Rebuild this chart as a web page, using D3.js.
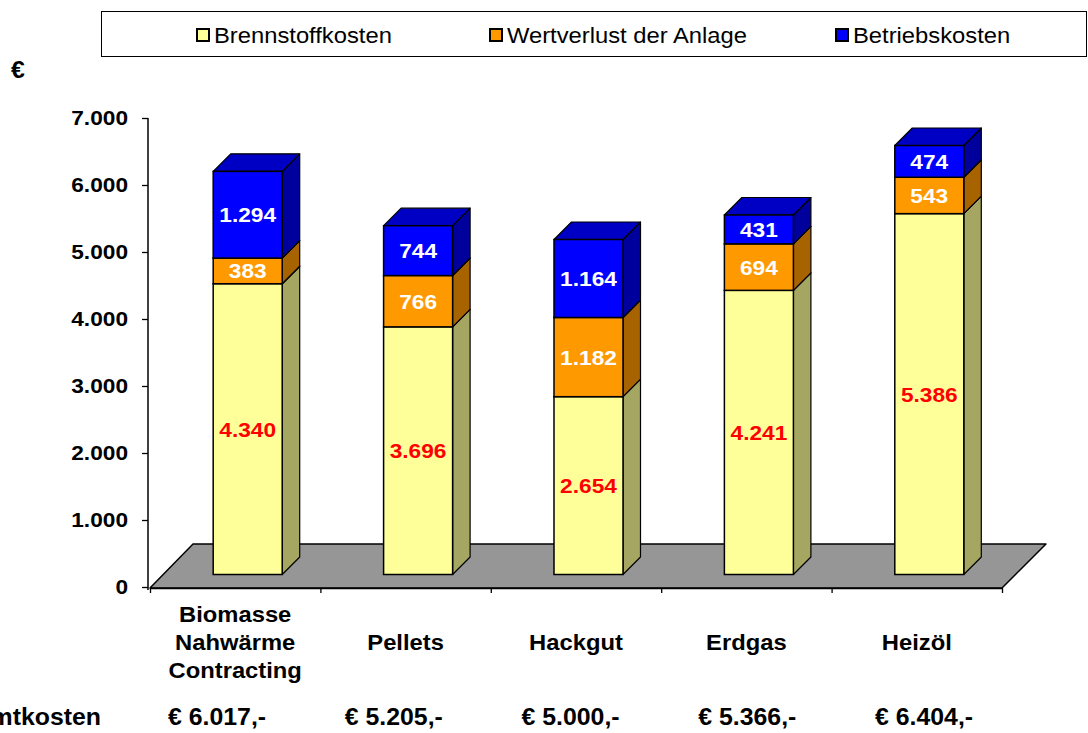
<!DOCTYPE html>
<html>
<head>
<meta charset="utf-8">
<script src="https://cdn.jsdelivr.net/npm/d3@7"></script>
<style>
  body { margin: 0; background: #fff; }
  svg text { font-family: "Liberation Sans", Arial, sans-serif; }
</style>
</head>
<body>
<svg id="chart" width="1088" height="733"></svg>
<script>
// chart data
var categories = ["Biomasse\nNahwärme\nContracting", "Pellets", "Hackgut", "Erdgas", "Heizöl"];
var brennstoffkosten = [4340, 3696, 2654, 4241, 5386];
var wertverlust = [383, 766, 1182, 694, 543];
var betriebskosten = [1294, 744, 1164, 431, 474];
var gesamtkosten = [6017, 5205, 5000, 5366, 6404];
var yTicks = [0, 1000, 2000, 3000, 4000, 5000, 6000, 7000];
var seriesNames = ["Brennstoffkosten", "Wertverlust der Anlage", "Betriebskosten"];

var de = d3.formatLocale({decimal: ",", thousands: ".", grouping: [3], currency: ["€", ""]});
var fmt = de.format(",.0f");

var colors = [
    {front: "#FFFF99", side: "#A6A663", top: "#CCCC7A", label: "#FF0000"},
    {front: "#FF9900", side: "#A66300", top: "#CC7A00", label: "#FFFFFF"},
    {front: "#0000FF", side: "#00009C", top: "#0000C4", label: "#FFFFFF"}
];

// the original text is drawn a bit wider than Arial
var STRETCH = 1.08;

var svg = d3.select("#chart");

var y = d3.scaleLinear().domain([0, 7000]).range([587, 118]);
var x = d3.scaleBand().domain(categories).range([150, 1002]);

// oblique depth (45 deg)
var floorDepth = 44, barFront = 12.5, barBack = 30;
var barWidth = x.bandwidth() * 0.405;

// floor
var fy = y(0) + 1;
svg.append("polygon")
    .attr("points", [[150, fy], [150 + floorDepth - 1, fy - floorDepth], [1002 + floorDepth, fy - floorDepth], [1002, fy]].join(" "))
    .attr("fill", "#969696")
    .attr("stroke", "#000")
    .attr("stroke-width", 1.5)
    .attr("stroke-linejoin", "round");

// stacked data
var series = [brennstoffkosten, wertverlust, betriebskosten];
var stacked = categories.map(function (c, i) {
    var base = 0;
    return series.map(function (s, k) {
        var seg = {cat: c, k: k, v0: base, v1: base + s[i], value: s[i]};
        base += s[i];
        return seg;
    });
});

var bars = svg.append("g").attr("class", "bars");
stacked.forEach(function (segs) {
    var g = bars.append("g");
    segs.forEach(function (d) {
        var x0 = x(d.cat) + x.bandwidth() / 2 - barWidth / 2 + barFront;
        var x1 = x0 + barWidth;
        var yb = y(d.v0) - barFront;
        var yt = y(d.v1) - barFront;
        var dd = barBack - barFront;
        var c = colors[d.k];
        // side
        g.append("polygon")
            .attr("points", [[x1, yb], [x1 + dd, yb - dd], [x1 + dd, yt - dd], [x1, yt]].join(" "))
            .attr("fill", c.side).attr("stroke", "#000").attr("stroke-width", 1.2).attr("stroke-linejoin", "round");
        // top
        g.append("polygon")
            .attr("points", [[x0, yt], [x1, yt], [x1 + dd, yt - dd], [x0 + dd, yt - dd]].join(" "))
            .attr("fill", c.top).attr("stroke", "#000").attr("stroke-width", 1.2).attr("stroke-linejoin", "round");
        // front
        g.append("rect")
            .attr("x", x0).attr("y", yt)
            .attr("width", barWidth).attr("height", yb - yt)
            .attr("fill", c.front).attr("stroke", "#000").attr("stroke-width", 1.5);
    });
    segs.forEach(function (d) {
        var cx = x(d.cat) + x.bandwidth() / 2 + barFront;
        var cy = (y(d.v0) + y(d.v1)) / 2 - barFront;
        g.append("text")
            .attr("x", cx).attr("y", cy)
            .attr("dy", "0.36em")
            .attr("text-anchor", "middle")
            .attr("font-size", 21).attr("font-weight", "bold")
            .attr("fill", colors[d.k].label)
            .text(fmt(d.value));
    });
});

// y axis
var yAxis = svg.append("g")
    .attr("transform", "translate(148,0)")
    .call(d3.axisLeft(y).tickValues(yTicks).tickSize(6).tickSizeOuter(0).tickPadding(14).tickFormat(fmt));
yAxis.select(".domain").attr("stroke", "#000").attr("stroke-width", 1.5).attr("d", "M0," + y(7000) + "V" + (y(0) + 3));
yAxis.selectAll(".tick line").attr("stroke", "#000").attr("stroke-width", 1.3);
yAxis.selectAll(".tick text")
    .attr("font-size", 21).attr("font-weight", "bold").attr("fill", "#000")
    .style("font-family", "'Liberation Sans', Arial, sans-serif");

// category axis
var xi = d3.scaleLinear().domain([0, categories.length]).range([150, 1002]);
var xAxis = svg.append("g")
    .attr("transform", "translate(0," + (y(0) + 1) + ")")
    .call(d3.axisBottom(xi).ticks(categories.length).tickSize(5).tickSizeOuter(0).tickFormat(""));
xAxis.select(".domain").attr("stroke", "#000").attr("stroke-width", 1.5);
xAxis.selectAll(".tick line").attr("stroke", "#000").attr("stroke-width", 1.3);

// category labels
var lineH = 28;
categories.forEach(function (c) {
    var lines = c.split("\n");
    var t = svg.append("text")
        .attr("text-anchor", "middle")
        .attr("font-size", 22).attr("font-weight", "bold").attr("fill", "#000");
    lines.forEach(function (l, j) {
        t.append("tspan")
            .attr("x", x(c) + x.bandwidth() / 2)
            .attr("y", 642 + (j - (lines.length - 1) / 2) * lineH)
            .attr("dy", "0.36em")
            .text(l);
    });
});

// totals row
var fx = d3.scalePoint().domain(d3.range(gesamtkosten.length)).range([168, 875]);
svg.append("text")
    .attr("x", 101).attr("y", 717).attr("dy", "0.36em")
    .attr("text-anchor", "end")
    .attr("font-size", 23).attr("font-weight", "bold")
    .text("Gesamtkosten");
svg.append("g").selectAll("text")
    .data(gesamtkosten)
    .enter().append("text")
    .attr("x", function (d, i) { return fx(i); })
    .attr("y", 717).attr("dy", "0.36em")
    .attr("font-size", 23).attr("font-weight", "bold")
    .text(function (d) { return "€ " + fmt(d) + ",-"; });

// unit
svg.append("text")
    .attr("x", 11).attr("y", 70).attr("dy", "0.36em")
    .attr("font-size", 23).attr("font-weight", "bold")
    .text("€");

// legend
var legend = svg.append("g");
legend.append("rect")
    .attr("x", 101.5).attr("y", 11.5)
    .attr("width", 985).attr("height", 45)
    .attr("fill", "#fff").attr("stroke", "#000").attr("stroke-width", 1);
var legendX = [197, 490, 836];
seriesNames.forEach(function (n, k) {
    legend.append("rect")
        .attr("x", legendX[k]).attr("y", 29)
        .attr("width", 12).attr("height", 12)
        .attr("fill", colors[k].front).attr("stroke", "#000").attr("stroke-width", 2);
    legend.append("text")
        .attr("x", legendX[k] + 17).attr("y", 35).attr("dy", "0.36em")
        .attr("font-size", 22)
        .text(n);
});

// widen all text slightly
function widen(el) {
    var w = el.getComputedTextLength();
    if (w > 0) {
        el.setAttribute("textLength", w * STRETCH);
        el.setAttribute("lengthAdjust", "spacingAndGlyphs");
    }
}
svg.selectAll("text").each(function () {
    var spans = this.querySelectorAll("tspan");
    if (spans.length) spans.forEach(widen);
    else widen(this);
});
</script>
</body>
</html>
